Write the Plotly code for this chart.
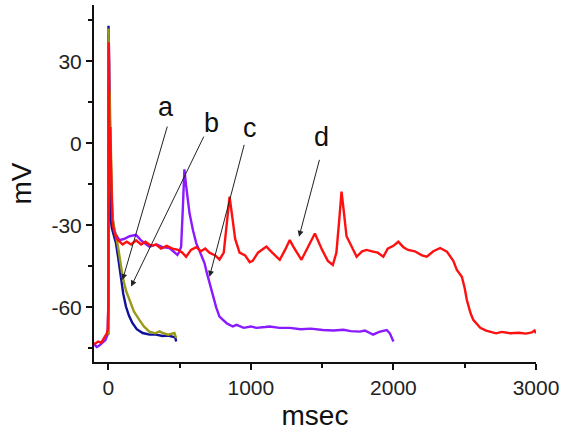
import plotly.graph_objects as go

# trace a (blue)
a_t = [0, 2, 5, 8, 12, 16, 25, 40, 54, 70, 89, 105, 124, 145, 169, 200, 241, 270, 290, 335, 380, 420, 452, 470, 476]
a_v = [-70, 43, 30, 5, -15, -26.8, -31, -34, -36.5, -42, -48.8, -55, -59.7, -63, -65.7, -68, -69.4, -69.8, -70, -70, -70.5, -70.3, -70.7, -71, -72.5]

# trace b (olive)
b_t = [0, 2, 4, 6, 10, 14, 20, 24, 30, 45, 66, 85, 101, 125, 148, 180, 218, 250, 288, 330, 360, 382, 420, 450, 464, 476]
b_v = [-70, 42, 30, 20, 18, 5, -3, -15, -27, -32, -37, -44, -48.8, -54, -57.3, -61.5, -64.6, -67, -68.9, -69.5, -68.8, -69.4, -70, -69.5, -69.4, -71.2]

# trace c (purple)
c_t = [-100, -80, -63, -40, -20, -5, 0, 3, 7, 12, 18, 25, 35, 50, 77, 110, 150, 195, 230, 288, 340, 380, 429, 460, 485,
       500, 511, 522, 534, 545, 570, 595, 617, 645, 675, 692, 710, 735, 757, 780, 804, 830, 851, 874, 900, 950, 1000,
       1038, 1100, 1132, 1200, 1273, 1350, 1420, 1505, 1580, 1650, 1700, 1765, 1800, 1835, 1857, 1900, 1953, 1975, 2000]
c_v = [-73.5, -74.5, -74, -73, -72, -70, -60, 40, 15, 5, -10, -22, -30, -33, -35.4, -35, -34, -33.5, -35.5, -37.8, -37, -38, -38.3, -39.5, -40.8,
       -39.5, -37.8, -25, -9.5, -15, -25.6, -32, -36.5, -40, -43.8, -47.5, -51, -56, -60, -63.4, -64.6, -65.8, -66.4, -67, -66.4, -67.5, -67,
       -67.5, -67.2, -67, -67.5, -67.5, -68, -67.8, -68.3, -68.5, -68.2, -68.7, -68.9, -68.5, -69.4, -70, -69, -68.3, -69.5, -72.5]

# trace d (red)
d_t = [-100, -70, -50, -30, -10, -3, 0, 2, 4, 6, 8, 11, 14, 18, 22, 28, 40, 60, 80, 100, 130, 160, 195, 230, 260, 300, 335,
       370, 410, 450, 490, 520, 546, 580, 617, 650, 680, 710, 750, 780, 810, 830, 851, 870, 890, 921, 960, 992, 1013, 1050,
       1080, 1109, 1150, 1203, 1240, 1273, 1300, 1355, 1400, 1449, 1500, 1540, 1575, 1600, 1620, 1636, 1650, 1671, 1700,
       1742, 1780, 1812, 1850, 1890, 1929, 1960, 2000, 2034, 2070, 2103, 2150, 2200, 2234, 2280, 2328, 2375, 2420, 2445,
       2480, 2500, 2515, 2540, 2560, 2590, 2609, 2650, 2679, 2720, 2760, 2820, 2880, 2930, 2970, 2990, 3000]
d_v = [-73.5, -72.5, -73, -71, -69.5, -68, -60, 20, 37, 20, 0, 2, 6, -5, -20, -28, -32, -35, -36, -37, -36, -37, -35.5, -37, -36, -37.5, -37,
       -38.5, -37.5, -38.5, -39, -40, -41.5, -39, -38, -39.5, -38.5, -40, -41, -42.5, -40, -30, -19.5, -27, -35, -40, -41, -43.5, -43, -40,
       -39, -37.8, -40, -42.6, -39, -35.4, -38, -42.6, -38, -33, -39, -43, -44.5, -40, -28, -17.7, -24, -34, -37,
       -41.5, -39.5, -39, -39.5, -40, -41.5, -38.5, -37.5, -36, -38, -39, -39.5, -41, -41.5, -39.5, -38.3, -39.6, -43, -46.3,
       -48.8, -53, -57.3, -62, -64.6, -66.5, -67.5, -68.5, -68.9, -69.5, -69, -69.5, -69.3, -69.6, -69.2, -68.5, -69.5]

# annotation labels
labels = ["a", "b", "c", "d"]
label_x = [406, 722, 992, 1496]
label_y = [13.4, 7.3, 5.6, 2.4]
tip_x = [100, 160, 710, 1338]
tip_y = [-50, -52.4, -48.8, -34.2]
tail_x = [417, 675, 956, 1484]
tail_y = [6.7, 3, 0, -5.5]

x_ticks = [0, 1000, 2000, 3000]
y_ticks = [-60, -30, 0, 30]

fig = go.Figure()
for t, v, col in [(c_t, c_v, "#8a1aff"), (a_t, a_v, "#10109a"), (b_t, b_v, "#9a9a1a"), (d_t, d_v, "#ff1010")]:
    fig.add_trace(go.Scatter(x=t, y=v, mode="lines", line=dict(color=col, width=2.4), showlegend=False, hoverinfo="skip"))

for lab, lx, ly, tx, ty, sx, sy in zip(labels, label_x, label_y, tip_x, tip_y, tail_x, tail_y):
    fig.add_annotation(x=tx, y=ty, ax=sx, ay=sy, xref="x", yref="y", axref="x", ayref="y",
                       text="", showarrow=True, arrowhead=2, arrowsize=1.2, arrowwidth=1, arrowcolor="#222")
    fig.add_annotation(x=lx, y=ly, xref="x", yref="y", text=lab, showarrow=False,
                       font=dict(size=27, color="#111", family="Liberation Sans"))

axis_common = dict(showline=True, linecolor="#111", linewidth=2, ticks="outside", ticklen=6, tickwidth=1.5,
                   tickcolor="#111", showgrid=False, zeroline=False, automargin=False,
                   tickfont=dict(size=21, color="#222", family="Liberation Sans"))
fig.update_xaxes(range=[-100, 3000], tickvals=x_ticks, ticktext=[str(v) for v in x_ticks],
                 minor=dict(tickvals=[500, 1500, 2500], ticks="outside", ticklen=4, tickwidth=1.5, tickcolor="#111"),
                 title=dict(text="msec", font=dict(size=28, color="#111", family="Liberation Sans"), standoff=8),
                 **axis_common)
fig.update_yaxes(range=[-80, 50.6], tickvals=y_ticks, ticktext=[str(v) for v in y_ticks],
                 minor=dict(tickvals=[-75, -45, -15, 15, 45], ticks="outside", ticklen=4, tickwidth=1.5, tickcolor="#111"),
                 title=dict(text="mV", font=dict(size=28, color="#111", family="Liberation Sans"), standoff=12),
                 **axis_common)
fig.update_layout(width=563, height=431, margin=dict(l=94, r=27, t=5, b=69),
                  plot_bgcolor="white", paper_bgcolor="white")
fig.write_html("out.html", config={"displayModeBar": False},
               post_script="document.body.style.margin='0';document.body.style.overflow='hidden';")
